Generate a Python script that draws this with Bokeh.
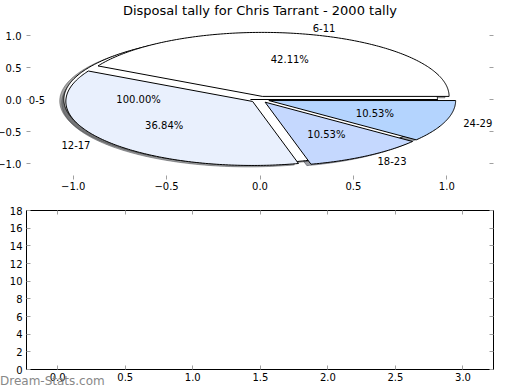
import math
from bokeh.plotting import figure
from bokeh.models import (Range1d, LinearAxis, FixedTicker, CustomJSTickFormatter,
                          Div)
from bokeh.layouts import column
from bokeh.core.properties import value
from bokeh.embed import file_html
from bokeh.resources import INLINE

# ---------------- data ----------------
title_text = "Disposal tally for Chris Tarrant - 2000 tally"
categories = ["0-5", "6-11", "12-17", "18-23", "24-29"]
tally = [0, 8, 7, 2, 2]
wedge_colors = ["#ffffff", "#ffffff", "#e9f0fd", "#c5d8fe", "#b4d4fe"]
pie_ticks = [-1.0, -0.5, 0.0, 0.5, 1.0]
bar_x_ticks = [0.0, 0.5, 1.0, 1.5, 2.0, 2.5, 3.0]
bar_y_ticks = [0, 2, 4, 6, 8, 10, 12, 14, 16, 18]
watermark = "Dream-Stats.com"

# ---------------- style constants ----------------
FONT = "DejaVu Sans"
EXPLODE = 0.05
SHADOW = -0.022
TICK_COLOR = "#a0a0a0"

# ---------------- pie geometry ----------------
total = float(sum(tally))
start = 0.0
wedge_xs, wedge_ys, sh_xs, sh_ys, sh_cols = [], [], [], [], []
pct_x, pct_y, pct_t = [], [], []
lab_l = {"x": [], "y": [], "t": []}
lab_r = {"x": [], "y": [], "t": []}
for cat, v, col in zip(categories, tally, wedge_colors):
    frac = v / total
    sweep = frac if frac > 0 else 1.0  # a zero wedge wraps to a full turn
    mid = 2 * math.pi * (start + sweep / 2.0)
    cx, cy = EXPLODE * math.cos(mid), EXPLODE * math.sin(mid)
    n = max(3, int(sweep * 400))
    a0 = 2 * math.pi * start
    a1 = 2 * math.pi * (start + sweep)
    xs = [cx] + [cx + math.cos(a0 + (a1 - a0) * i / n) for i in range(n + 1)]
    ys = [cy] + [cy + math.sin(a0 + (a1 - a0) * i / n) for i in range(n + 1)]
    wedge_xs.append(xs)
    wedge_ys.append(ys)
    sh_xs.append([x + SHADOW for x in xs])
    sh_ys.append([y + SHADOW for y in ys])
    r, g, b = int(col[1:3], 16), int(col[3:5], 16), int(col[5:7], 16)
    sh_cols.append("#%02x%02x%02x" % (int(r * 0.3), int(g * 0.3), int(b * 0.3)))
    pct_x.append(cx + 0.6 * math.cos(mid))
    pct_y.append(cy + 0.6 * math.sin(mid))
    pct_t.append("%.2f%%" % (sweep * 100))
    lx, ly = cx + 1.1 * math.cos(mid), cy + 1.1 * math.sin(mid)
    d = lab_l if lx > 0 else lab_r
    d["x"].append(lx)
    d["y"].append(ly)
    d["t"].append(cat)
    start += frac

fmt_minus = "return tick.toFixed(1).replace('-', '\\u2212');"
fmt_int = "return tick.toFixed(0);"
fmt_one = "return tick.toFixed(1);"
fmt_none = "return '';"


def style_axis(ax, ticks, code, labels=True, line=False, standoff=4):
    ax.ticker = FixedTicker(ticks=ticks)
    ax.formatter = CustomJSTickFormatter(code=code if labels else fmt_none)
    ax.major_tick_in = 4
    ax.major_tick_out = 0
    ax.minor_tick_line_color = None
    ax.major_tick_line_color = TICK_COLOR
    ax.axis_line_color = "black" if line else None
    ax.major_label_text_font = FONT
    ax.major_label_text_font_size = "10px"
    ax.major_label_text_color = "black"
    ax.major_label_standoff = standoff if labels else 0


# ---------------- top: pie ----------------
p1 = figure(width=534, height=200, x_range=Range1d(-1.25, 1.25),
            y_range=Range1d(-1.25, 1.25), output_backend="svg",
            toolbar_location=None, min_border_left=40, min_border_right=27,
            min_border_top=19, min_border_bottom=21, outline_line_color=None,
            title=title_text)
p1.title.align = "center"
p1.title.vertical_align = "middle"
p1.title.text_font = FONT
p1.title.text_font_size = "13px"
p1.title.text_font_style = "normal"
p1.title.text_color = "black"
p1.title.standoff = 2
p1.grid.visible = False
ax_right = LinearAxis()
p1.add_layout(ax_right, "right")
style_axis(p1.below[0], pie_ticks, fmt_minus, standoff=2)
style_axis(p1.left[0], pie_ticks, fmt_minus, standoff=5)
style_axis(ax_right, pie_ticks, fmt_minus, labels=False)

p1.patches(xs=sh_xs, ys=sh_ys, fill_color=sh_cols, fill_alpha=0.5,
           line_color=sh_cols, line_alpha=0.5, line_width=1)
p1.patches(xs=wedge_xs, ys=wedge_ys, fill_color=wedge_colors,
           line_color="black", line_width=1)
p1.text(x=pct_x, y=pct_y, text=pct_t, text_align="center", text_baseline="middle",
        text_font=value(FONT), text_font_size="10px", text_color="black")
p1.text(x=lab_l["x"], y=lab_l["y"], text=lab_l["t"], text_align="left",
        text_baseline="middle", text_font=value(FONT), text_font_size="10px",
        text_color="black")
p1.text(x=lab_r["x"], y=lab_r["y"], text=lab_r["t"], text_align="right",
        text_baseline="middle", text_font=value(FONT), text_font_size="10px",
        text_color="black")

# ---------------- bottom: empty axes ----------------
p2 = figure(width=534, height=190, x_range=Range1d(-0.231, 3.226),
            y_range=Range1d(0, 18), output_backend="svg", toolbar_location=None,
            min_border_left=40, min_border_right=27, min_border_top=10,
            min_border_bottom=21, outline_line_color="black", outline_line_width=1,
            outline_line_alpha=1.0)
p2.grid.visible = False
ax2_top = LinearAxis()
ax2_right = LinearAxis()
p2.add_layout(ax2_top, "above")
p2.add_layout(ax2_right, "right")
style_axis(p2.below[0], bar_x_ticks, fmt_one, line=True, standoff=3)
style_axis(p2.left[0], bar_y_ticks, fmt_int, line=True, standoff=4)
style_axis(ax2_top, bar_x_ticks, fmt_one, labels=False, line=True)
style_axis(ax2_right, bar_y_ticks, fmt_int, labels=False, line=True)

mark = Div(text=watermark, width=120, height=16,
           styles={"margin-top": "-17px", "margin-left": "14px",
                   "font-family": "DejaVu Sans", "font-size": "12px",
                   "color": "#888888", "line-height": "16px"})

root = column(p1, p2, mark, styles={"margin": "0px 0px 0px -14px"})

open("out.html", "w").write(file_html(root, INLINE))
